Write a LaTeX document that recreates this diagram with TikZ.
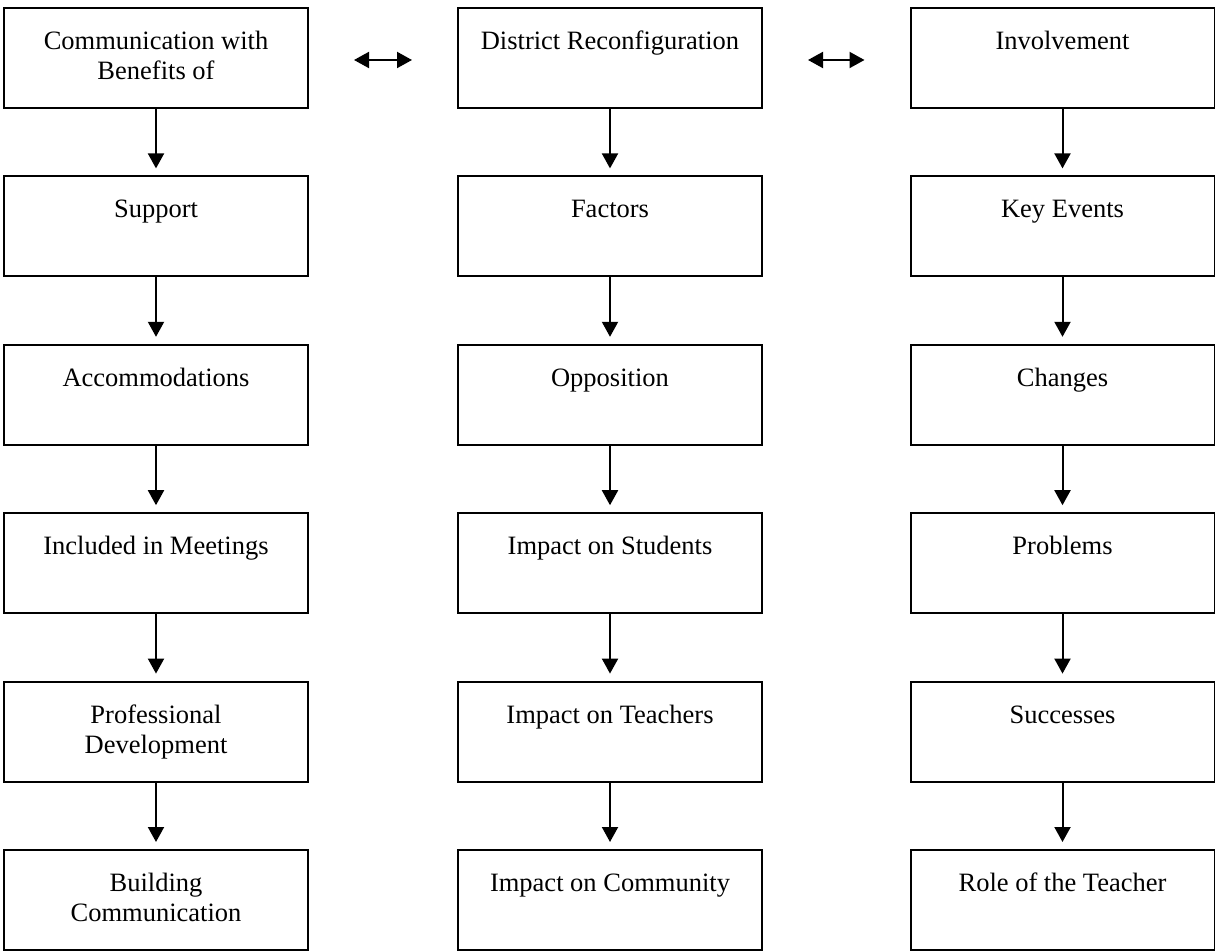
\documentclass[tikz,border=0pt]{standalone}
\usepackage{fontspec}
\setmainfont{Liberation Serif}
\usetikzlibrary{arrows.meta}
\tikzset{
  box/.style={draw, line width=1pt, minimum width=152pt, minimum height=50pt,
    inner sep=0pt, anchor=north},
  boxtext/.style={anchor=north, align=center, inner sep=0pt,
    font=\fontsize{13.25}{15}\selectfont},
  flow/.style={line width=1pt, -{Triangle[length=7.5pt,width=8pt]}, shorten >=3.5pt},
  link/.style={line width=1pt, {Triangle[length=7.5pt,width=8pt]}-{Triangle[length=7.5pt,width=8pt]}},
}
\newcommand{\flowbox}[4]{% name, x, y-top, text
  \node[box] (#1) at (#2,#3) {};
  \node[boxtext] (#1t) at ([yshift=-10.5pt]#1.north) {\strut #4};
}
\begin{document}
\begin{tikzpicture}[x=0.5pt, y=-0.5pt]
\useasboundingbox (0,0) rectangle (1215,951);

% left column
\flowbox{a1}{156}{7}{Communication with\\Benefits of}
\flowbox{a2}{156}{175.4}{Support}
\flowbox{a3}{156}{343.8}{Accommodations}
\flowbox{a4}{156}{512.2}{Included in Meetings}
\flowbox{a5}{156}{680.6}{Professional\\Development}
\flowbox{a6}{156}{849}{Building\\Communication}

% middle column
\flowbox{b1}{610}{7}{District Reconfiguration}
\flowbox{b2}{610}{175.4}{Factors}
\flowbox{b3}{610}{343.8}{Opposition}
\flowbox{b4}{610}{512.2}{Impact on Students}
\flowbox{b5}{610}{680.6}{Impact on Teachers}
\flowbox{b6}{610}{849}{Impact on Community}

% right column
\flowbox{c1}{1062.5}{7}{Involvement}
\flowbox{c2}{1062.5}{175.4}{Key Events}
\flowbox{c3}{1062.5}{343.8}{Changes}
\flowbox{c4}{1062.5}{512.2}{Problems}
\flowbox{c5}{1062.5}{680.6}{Successes}
\flowbox{c6}{1062.5}{849}{Role of the Teacher}

% vertical flow arrows
\foreach \col in {a,b,c}{
  \foreach \i [evaluate=\i as \j using int(\i+1)] in {1,...,5}{
    \draw[flow] (\col\i.south) -- (\col\j.north);
  }
}

% links between the top boxes
\draw[link] ([xshift=22.5pt,yshift=-1pt]a1.east) -- ([xshift=-22.5pt,yshift=-1pt]b1.west);
\draw[link] ([xshift=22.5pt,yshift=-1pt]b1.east) -- ([xshift=-22.5pt,yshift=-1pt]c1.west);
\end{tikzpicture}
\end{document}
